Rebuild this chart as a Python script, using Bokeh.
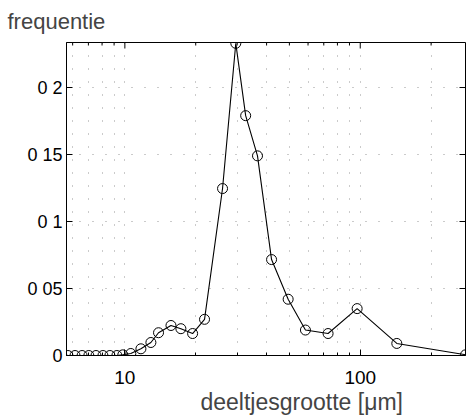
from bokeh.plotting import figure
from bokeh.models import FixedTicker, CustomJSTickFormatter, Title, ColumnDataSource
from bokeh.embed import file_html
from bokeh.resources import INLINE

# ---- data ----
size_um = [5.4, 5.73, 6.14, 6.58, 7.03, 7.54, 8.07, 8.64, 9.25, 9.8,
           10.6, 11.7, 12.9, 13.9, 15.7, 17.3, 19.4, 21.8, 26.0, 29.6,
           32.6, 36.6, 42.0, 49.4, 58.5, 73.0, 97.0, 143.0, 280.0]
frequentie = [0.0, 0.0, 0.0, 0.0, 0.0, 0.0, 0.0, 0.0, 0.0, 0.0005,
              0.0015, 0.005, 0.0097, 0.017, 0.0224, 0.020, 0.0164, 0.027, 0.1246, 0.233,
              0.179, 0.149, 0.0716, 0.042, 0.019, 0.0164, 0.035, 0.009, 0.0005]

x_ticks = [10, 100]
x_tick_labels = ["10", "100"]
x_minor_ticks = [6, 7, 8, 9, 20, 30, 40, 50, 60, 70, 80, 90, 200]
y_ticks = [0, 0.05, 0.1, 0.15, 0.2]
y_tick_labels = ["0", "0 05", "0 1", "0 15", "0 2"]

X_MIN, X_MAX = 5.65, 280
Y_MIN, Y_MAX = 0, 0.2336

FONT = "Liberation Sans"

fmt_code = """
for (let i = 0; i < ticks_arr.length; i++) {
  if (Math.abs(ticks_arr[i] - tick) < 1e-9 * Math.max(1, Math.abs(tick))) return labels[i];
}
return "";
"""

p = figure(width=467, height=415, x_axis_type="log", x_range=(X_MIN, X_MAX),
           y_range=(Y_MIN, Y_MAX), output_backend="svg", toolbar_location=None,
           min_border_left=66, min_border_right=2, min_border_top=42,
           min_border_bottom=60)

p.background_fill_color = "white"
p.border_fill_color = "white"
p.outline_line_color = "black"
p.outline_line_width = 1

# title
p.title.text = "frequentie"
p.title.align = "left"
p.title.offset = -59
p.title.text_font = FONT
p.title.text_font_size = "22px"
p.title.text_font_style = "normal"
p.title.standoff = 14
p.title.vertical_align = "top"

xt = FixedTicker(ticks=x_ticks, minor_ticks=x_minor_ticks)
yt = FixedTicker(ticks=y_ticks, minor_ticks=[])
xf = CustomJSTickFormatter(args=dict(ticks_arr=x_ticks, labels=x_tick_labels), code=fmt_code)
yf = CustomJSTickFormatter(args=dict(ticks_arr=y_ticks, labels=y_tick_labels), code=fmt_code)

p.xaxis.ticker = xt
p.xaxis.formatter = xf
p.yaxis.ticker = yt
p.yaxis.formatter = yf

for ax in list(p.xaxis) + list(p.yaxis):
    ax.axis_line_color = "black"
    ax.major_tick_in = 6
    ax.major_tick_out = 0
    ax.minor_tick_in = 3
    ax.minor_tick_out = 0
    ax.major_tick_line_color = "black"
    ax.minor_tick_line_color = "black"
    ax.major_label_text_font = FONT
    ax.major_label_text_color = "black"

p.xaxis.major_label_text_font_size = "19px"
p.yaxis.major_label_text_font_size = "18px"
p.xaxis.major_label_standoff = 15
p.yaxis.major_label_standoff = 4

p.add_layout(Title(text="deeltjesgrootte [\u03bcm]", align="left", offset=134,
                   text_font=FONT, text_font_size="23px", text_font_style="normal",
                   standoff=0), "below")

# grid (sparse dotted)
p.xgrid.grid_line_color = "#444444"
p.xgrid.grid_line_dash = "1 12"
p.xgrid.grid_line_alpha = 0.55
p.xgrid.minor_grid_line_color = "#444444"
p.xgrid.minor_grid_line_dash = "1 12"
p.xgrid.minor_grid_line_alpha = 0.55
p.ygrid.grid_line_color = "#444444"
p.ygrid.grid_line_dash = "1 12"
p.ygrid.grid_line_alpha = 0.55

# inward ticks on top and right edges (dash markers centred on the edge, half clipped)
p.scatter(x=x_ticks, y=[Y_MAX] * len(x_ticks), marker="dash", angle=1.5708, size=12,
          line_color="black", line_width=1)
p.scatter(x=x_minor_ticks, y=[Y_MAX] * len(x_minor_ticks), marker="dash", angle=1.5708,
          size=6, line_color="black", line_width=1)
p.scatter(x=[X_MAX] * len(y_ticks), y=y_ticks, marker="dash", size=12,
          line_color="black", line_width=1)

src = ColumnDataSource(dict(x=size_um, y=frequentie))
p.line("x", "y", source=src, line_color="black", line_width=1.1)
p.scatter("x", "y", source=src, marker="circle", size=10, fill_color=None,
          line_color="black", line_width=1)

open("out.html", "w").write(file_html(p, INLINE))
